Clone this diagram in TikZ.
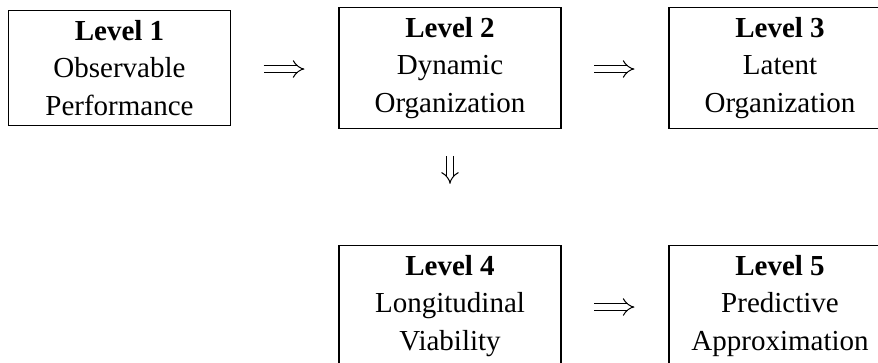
\documentclass[tikz,border=0pt]{standalone}
\usepackage{fontspec}
\setmainfont{Liberation Serif}
\usetikzlibrary{arrows.meta}
\begin{document}
\begin{tikzpicture}[x=0.4pt,y=-0.4pt,
  levelbox/.style={draw, line width=0.45pt, align=center, minimum width=88.8pt,
    inner xsep=2pt, inner ysep=3.8pt, font=\fontsize{11.6}{15}\selectfont},
  dblarrow/.style={double, double distance=2.1pt, line width=0.4pt,
    -{Implies[length=3.2pt]}}]
\useasboundingbox (0,0) rectangle (878,362);
\clip (0,0) rectangle (878,362);
\node[levelbox] (l1) at (119.5,68) {\textbf{Level 1}\\Observable\\Performance};
\node[levelbox] (l2) at (450,68) {\textbf{Level 2}\\Dynamic\\Organization};
\node[levelbox] (l3) at (780,68) {\textbf{Level 3}\\Latent\\Organization};
\node[levelbox] (l4) at (450,306) {\textbf{Level 4}\\Longitudinal\\Viability};
\node[levelbox] (l5) at (780,306) {\textbf{Level 5}\\Predictive\\Approximation};
\draw[dblarrow] ([xshift=13pt,yshift=-0.4pt]l1.east) -- ([xshift=-13.6pt,yshift=-0.4pt]l2.west);
\draw[dblarrow] ([xshift=13pt,yshift=-0.4pt]l2.east) -- ([xshift=-13.6pt,yshift=-0.4pt]l3.west);
\draw[dblarrow] ([yshift=-10.8pt]l2.south) -- ([yshift=-22pt]l2.south);
\draw[dblarrow] ([xshift=13pt,yshift=-0.4pt]l4.east) -- ([xshift=-13.6pt,yshift=-0.4pt]l5.west);
\end{tikzpicture}
\end{document}
